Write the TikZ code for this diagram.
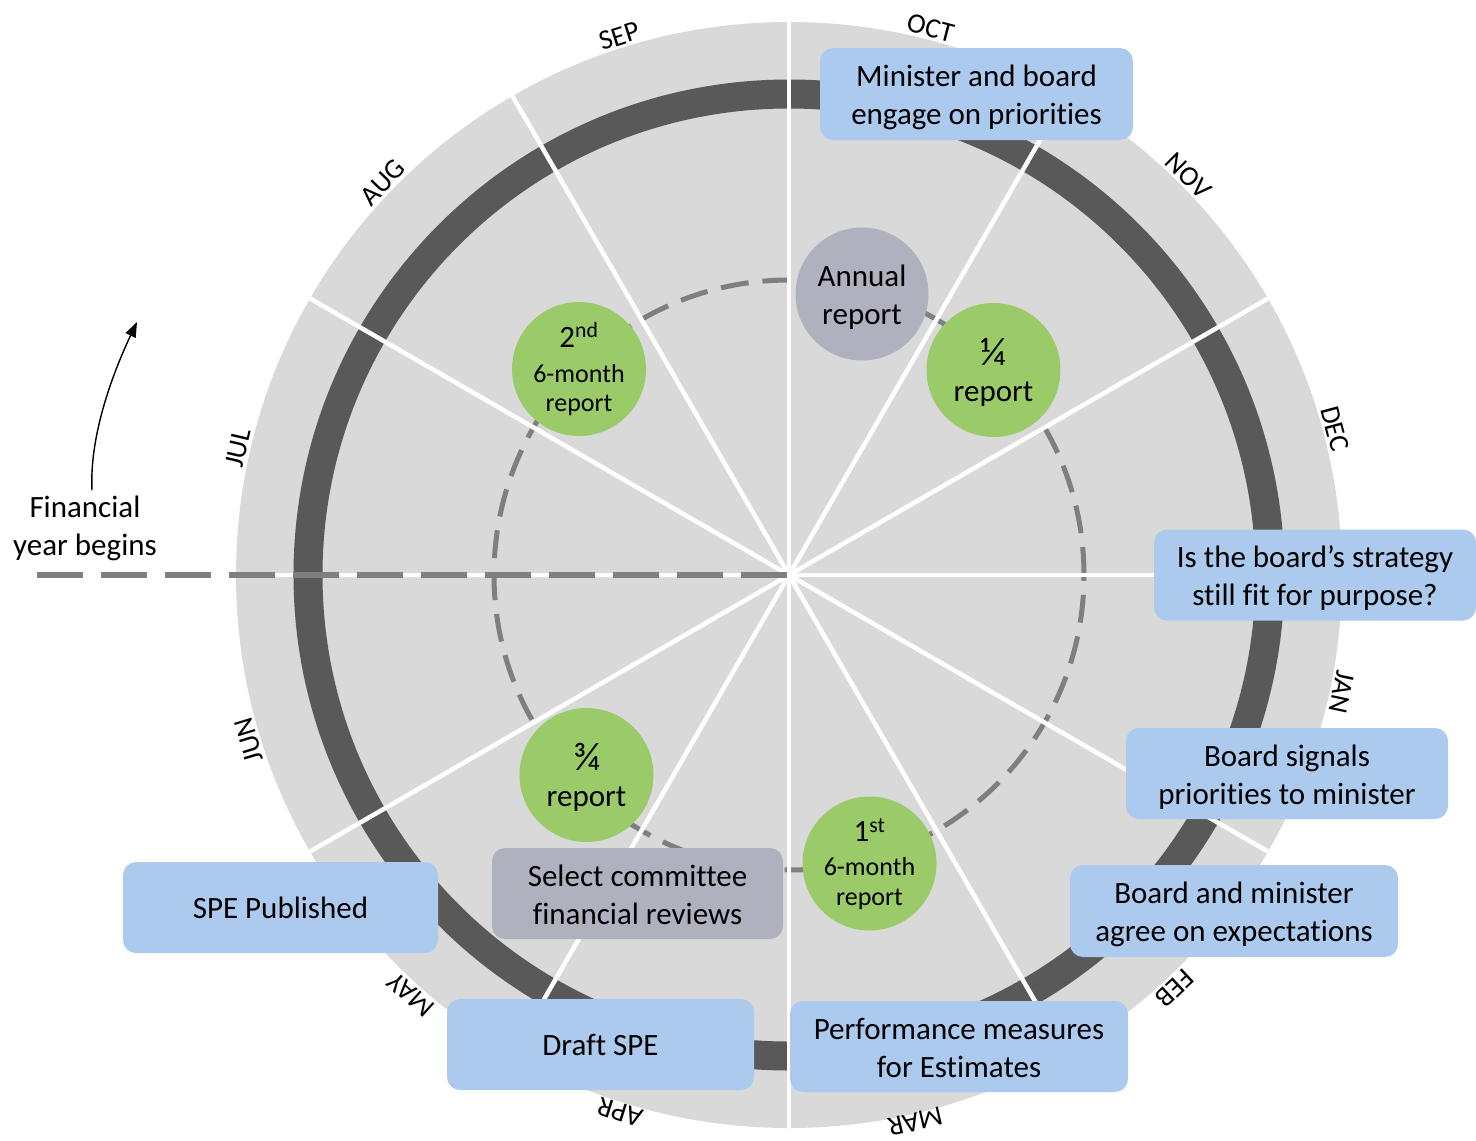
\documentclass[tikz,border=0pt]{standalone}
\usepackage{fontspec}
\setmainfont{Carlito}[Ligatures=NoCommon]
\usetikzlibrary{arrows.meta}
\definecolor{diskgray}{HTML}{D9D9D9}
\definecolor{ringgray}{HTML}{595959}
\definecolor{dashgray}{HTML}{7F7F7F}
\definecolor{boxblue}{HTML}{ACCAEE}
\definecolor{boxgray}{HTML}{AFB2BE}
\definecolor{circgreen}{HTML}{9BCB68}
\newcommand\bxfont{\fontsize{31}{38}\selectfont}
\newcommand\smfont{\fontsize{26}{31}\selectfont}
\newcommand\mofont{\fontsize{28}{30}\selectfont}
\newcommand\frfont{\fontsize{40}{38}\selectfont}
\newcommand\lstrut{\rule[-6pt]{0pt}{35pt}}
\newcommand\topstrut[1]{\rule{0pt}{#1}}
\newcommand\botstrut{\rule[-6pt]{0pt}{6pt}}
\begin{document}
\begin{tikzpicture}[x=1pt,y=1pt,
  bluebox/.style={fill=boxblue, rounded corners=13pt, align=center, inner sep=0pt, font=\bxfont},
  graybox/.style={fill=boxgray, rounded corners=13pt, align=center, inner sep=0pt, font=\bxfont},
  greencirc/.style={circle, fill=circgreen, minimum size=134pt, inner sep=0pt, align=center, font=\bxfont},
  graycirc/.style={circle, fill=boxgray, minimum size=133pt, inner sep=0pt, align=center, font=\bxfont},
  monthlabel/.style={font=\mofont, inner sep=0pt, anchor=base},
  spoke/.style={white, line width=4.5pt},
  fyline/.style={dashgray, line width=6pt, dash pattern=on 46pt off 18pt},
  innerdash/.style={dashgray, line width=5pt, dash pattern=on 28pt off 14pt}
]
\useasboundingbox (0,0) rectangle (1476,-1141);
\coordinate (c) at (789,-575);
% disk and ring
\fill[diskgray] (c) circle[radius=553];
\draw[ringgray, line width=29pt] (c) circle[radius=481];
\draw[innerdash] (c) circle[radius=295];
\foreach \a in {0,30,...,330} \draw[spoke] (c) -- ++(\a:553);
% financial year line
\coordinate (fystart) at (37,-575);
\draw[fyline] (fystart) -- (c);
% financial year label and arrow
\node[font=\bxfont, align=center, inner sep=0pt] (fy) at (85,-525) {\lstrut Financial\\\lstrut year begins};
\coordinate (arrend) at (137,-322);
\draw[line width=1.4pt, -{Triangle[length=15pt,width=11pt]}] ([xshift=7pt,yshift=-2pt]fy.north) .. controls (89,-430) and (118,-362) .. (arrend);
% boxes
\node[bluebox, minimum width=313pt, minimum height=92pt] (minister) at (976.5,-94) {\lstrut Minister and board\\\lstrut engage on priorities};
\node[bluebox, minimum width=322pt, minimum height=91pt] (strategy) at (1315,-575) {\lstrut Is the board’s strategy\\\lstrut still fit for purpose?};
\node[bluebox, minimum width=322pt, minimum height=91pt] (signals) at (1287,-773.5) {\lstrut Board signals\\\lstrut priorities to minister};
\node[bluebox, minimum width=328pt, minimum height=92pt] (agree) at (1234,-911) {\lstrut Board and minister\\\lstrut agree on expectations};
\node[bluebox, minimum width=338pt, minimum height=91pt] (perf) at (959,-1046.5) {\lstrut Performance measures\\\lstrut for Estimates};
\node[bluebox, minimum width=307pt, minimum height=91pt] (draft) at (600.5,-1044.5) {Draft SPE};
\node[bluebox, minimum width=315pt, minimum height=91pt] (published) at (280.5,-907.5) {SPE Published};
\node[graybox, minimum width=291pt, minimum height=91pt] (select) at (637.5,-893.5) {\lstrut Select committee\\\lstrut financial reviews};
% circles
\node[graycirc] (annual) at (862,-294) {\lstrut Annual\\\lstrut report};
\node[greencirc] (q1) at (993.5,-370) {\topstrut{32pt}\frfont ¼\\[-2pt]\botstrut report};
\node[greencirc] (h2) at (579,-369) {\topstrut{26pt}2\textsuperscript{nd}\\[-3pt]\smfont 6-month\\[-9pt]\smfont\botstrut report};
\node[greencirc] (q3) at (586.5,-775) {\topstrut{32pt}\frfont ¾\\[-2pt]\botstrut report};
\node[greencirc] (h1) at (869.5,-863.5) {\topstrut{26pt}1\textsuperscript{st}\\[-4pt]\smfont 6-month\\[-8pt]\smfont\botstrut report};
% months
\foreach \m/\t/\r in {OCT/14.5/556, NOV/45/556, DEC/75/556, JAN/102/556, FEB/137/556, MAR/167/552, APR/197.5/554, MAY/222/556, JUN/253/556, JUL/283/556, AUG/314/556, SEP/342.5/556}
  \node[monthlabel, rotate=-\t] (m\m) at ([shift={({90-\t}:\r)}]c) {\m};
\end{tikzpicture}
\end{document}
